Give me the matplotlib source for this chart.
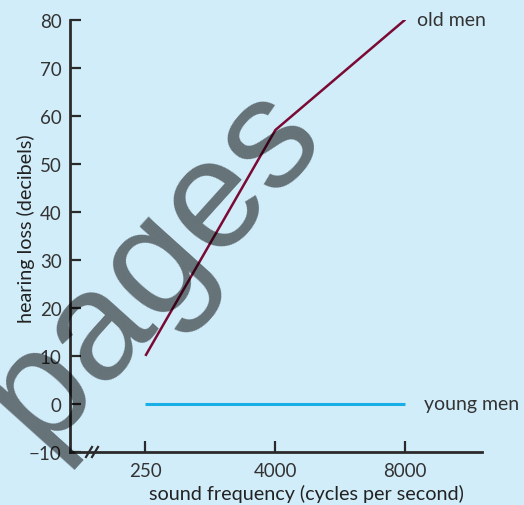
import matplotlib
matplotlib.use("Agg")
import matplotlib.pyplot as plt

# data
freq_labels = ["250", "4000", "8000"]
old_men = [10, 57, 80]
young_men = [0, 0, 0]
yticks = [-10, 0, 10, 20, 30, 40, 50, 60, 70, 80]

plt.rcParams['font.family'] = ['Lato', 'DejaVu Sans']

BG = "#d2edfa"
INK = "#2b2a2b"
W, H = 524, 506
fig = plt.figure(figsize=(W / 100, H / 100), dpi=100, facecolor=BG)
ax = fig.add_axes([70 / W, (H - 453) / H, 412 / W, 432.5 / H], facecolor=BG)

xpos = list(range(len(freq_labels)))
ax.plot(xpos, old_men, color="#7a0a33", lw=1.8, solid_capstyle="butt", zorder=3)
ax.plot(xpos, young_men, color="#1aaee6", lw=2.2, solid_capstyle="butt", zorder=3)

ax.set_xlim(-0.58, 2.59)
ax.set_ylim(-10, 80)
ax.set_xticks(xpos)
ax.set_xticklabels(freq_labels)
ax.set_yticks(yticks)
ax.set_yticklabels(["\u221210" if v < 0 else str(v) for v in yticks])

for side in ("top", "right"):
    ax.spines[side].set_visible(False)
for side in ("left", "bottom"):
    ax.spines[side].set_linewidth(2)
    ax.spines[side].set_color(INK)
    ax.spines[side].set_capstyle("projecting")

ax.tick_params(axis="both", direction="in", length=8, width=1.6, color=INK,
               labelsize=13.5, labelcolor="#333333")
ax.tick_params(axis="y", pad=6)
ax.tick_params(axis="x", pad=7)

ax.set_ylabel("hearing loss (decibels)", fontsize=14.2, color="#222222")
ax.yaxis.label.set_va("center")
ax.yaxis.set_label_coords((26 - 70) / 412, (453 - 229) / 432.5)
ax.set_xlabel("sound frequency (cycles per second)", fontsize=14.2, color="#222222")
ax.xaxis.label.set_va("center")
ax.xaxis.set_label_coords((306.5 - 70) / 412, (453 - 494) / 432.5)

ax.text(2.09, 80, "old men", fontsize=14, color="#333333", va="center", ha="left")
ax.text(2.145, 0, "young men", fontsize=14, color="#333333", va="center", ha="left")

# axis break marks
for dx in (0, 6):
    x0 = (86 + dx - 70) / 412
    ax.plot([x0, x0 + 6 / 412], [-5 / 432.5, 5 / 432.5], transform=ax.transAxes,
            color=INK, lw=1.6, clip_on=False, zorder=5)

# watermark
fig.text(153 / W, 1 - 264 / H, "pages", fontsize=112, rotation=48,
         color="black", alpha=0.52, ha="center", va="center",
         family="Liberation Sans", zorder=10)

fig.savefig("out.png", dpi=100, facecolor=BG)
